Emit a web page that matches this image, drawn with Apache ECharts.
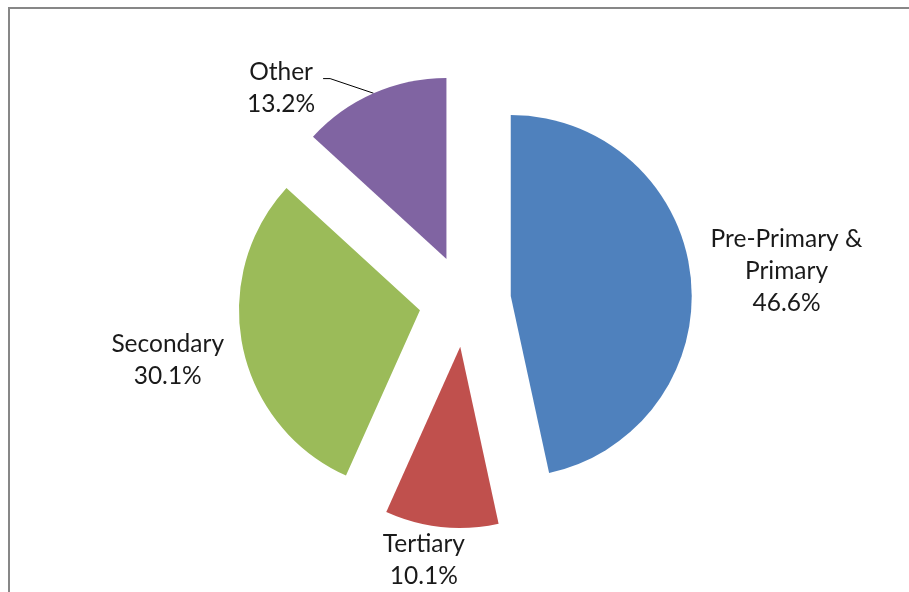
<!DOCTYPE html>
<html>
<head>
<meta charset="utf-8">
<script src="https://cdn.jsdelivr.net/npm/echarts@6/dist/echarts.min.js"></script>
<style>
  html, body { margin: 0; padding: 0; background: #fff; }
  #chart { width: 909px; height: 592px; }
</style>
</head>
<body>
<div id="chart"></div>
<script>
// data
const categories = ["Pre-Primary &\nPrimary", "Tertiary", "Secondary", "Other"];
const shares = [46.6, 10.1, 30.1, 13.2];
const colors = ["#4F81BD", "#C0504D", "#9BBB59", "#8064A2"];

// small nudges so the labels sit where Excel put them
const labelShift = [[0, -4], [30, 18], [1, 10], [-3, 9]];

const chart = echarts.init(document.getElementById("chart"), null, { renderer: "canvas" });

const textStyle = { fontFamily: "Lato", fontSize: 24.5, color: "#1a1a1a", lineHeight: 32 };

const option = {
  animation: false,
  graphic: [
    {
      type: "polyline",
      shape: { points: [[9, 592], [9, 8], [909, 8]] },
      style: { stroke: "#878787", lineWidth: 2, fill: null },
    },
  ],
  series: [
    {
      type: "pie",
      center: [465, 301],
      radius: 181,
      startAngle: 90,
      clockwise: true,
      selectedMode: "multiple",
      selectedOffset: 46,
      avoidLabelOverlap: false,
      itemStyle: { borderWidth: 0 },
      label: Object.assign({
        show: true,
        position: "outside",
        distanceToLabelLine: 5,
        formatter: (p) =>
          p.name.split("\n").map((s) => "{c|" + s + "}").join("\n") +
          "\n{c|" + p.value.toFixed(1) + "%}",
        rich: { c: Object.assign({ align: "center" }, textStyle) },
      }, textStyle),
      labelLine: { show: false, length: 15, length2: 0, lineStyle: { color: "#000", width: 1 } },
      labelLayout: (params) => {
        const i = params.dataIndex;
        const out = { dx: labelShift[i][0], dy: labelShift[i][1] };
        const pts = params.labelLinePoints;
        if (i === 3 && pts) {
          // Excel draws the slanted part first, then a short flat tail
          const end = pts[2];
          out.labelLinePoints = [pts[0], [end[0] + 7, end[1]], end];
        }
        return out;
      },
      emphasis: { disabled: true },
      data: categories.map((name, i) => ({
        name: name,
        value: shares[i],
        selected: true,
        itemStyle: { color: colors[i] },
        labelLine: i === 3 ? { show: true, length: 16, length2: 44 } : { show: false },
      })),
    },
  ],
};

chart.setOption(option);
</script>
</body>
</html>
